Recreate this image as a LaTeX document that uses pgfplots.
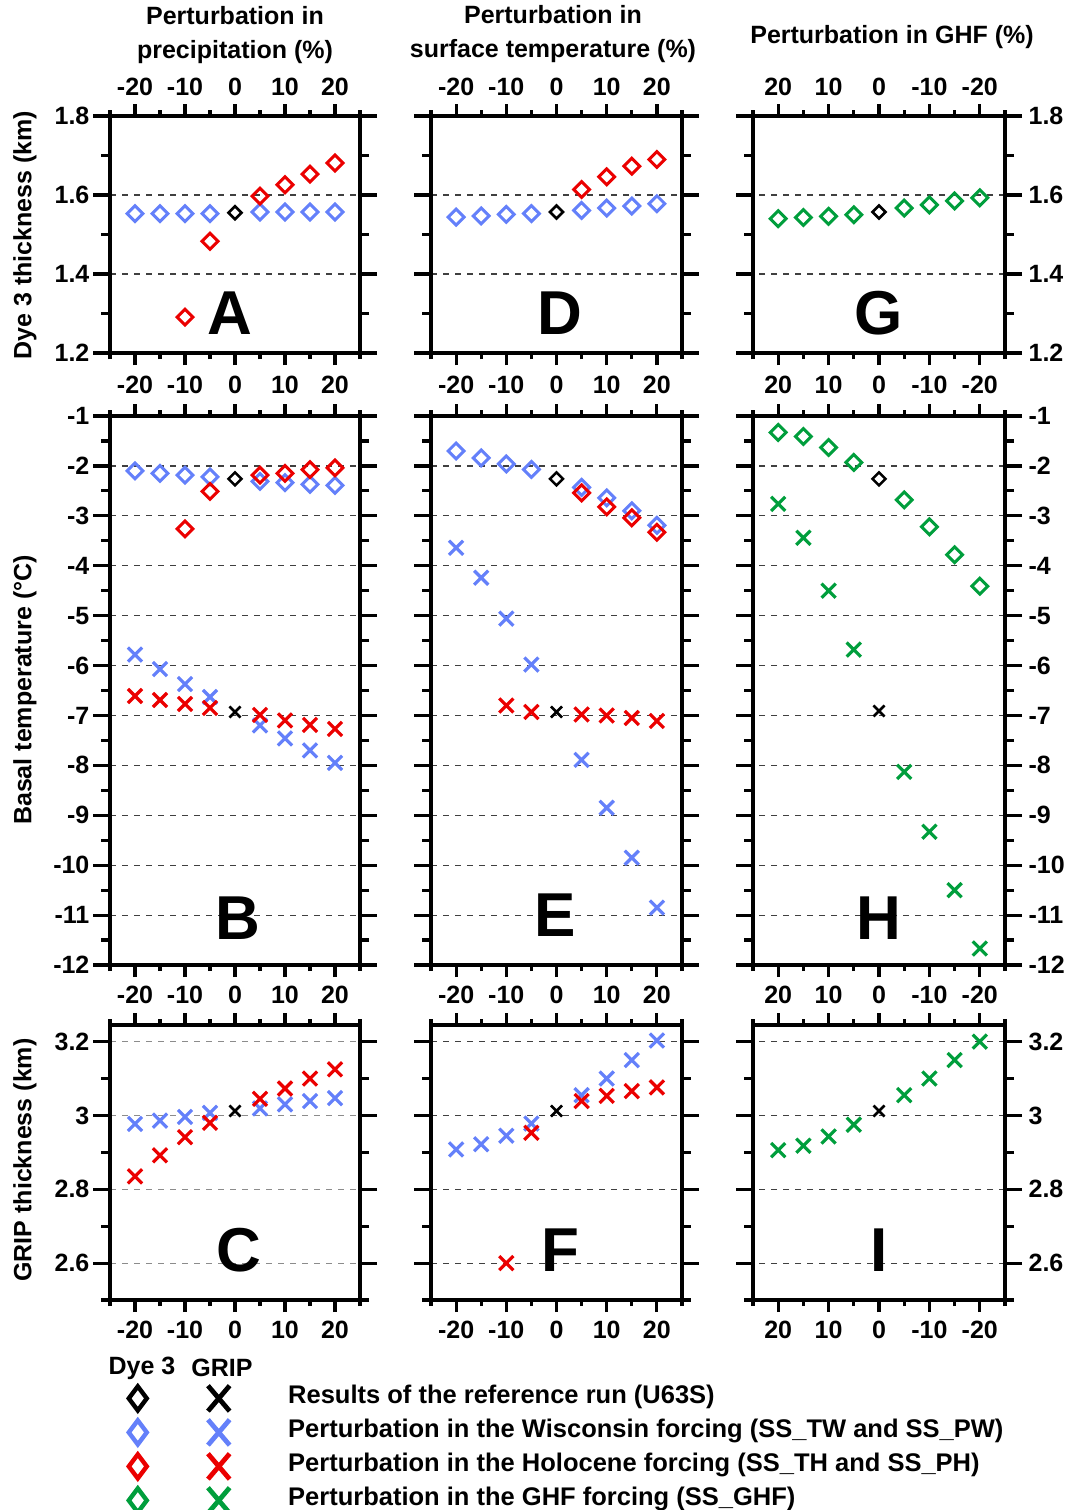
\documentclass[border=0pt]{standalone}
\usepackage{fontspec}
\setmainfont{Liberation Sans}
\usepackage{pgfplots}
\pgfplotsset{compat=1.18}

\definecolor{cblue}{RGB}{100,128,250}
\definecolor{cred}{RGB}{235,0,0}
\definecolor{cgreen}{RGB}{0,158,60}

\newcommand{\fs}{\bfseries\fontsize{12.5}{17}\selectfont}
\newcommand{\lgf}{\bfseries\fontsize{12.75}{17}\selectfont}
\newcommand{\lf}{\bfseries\fontsize{31}{31}\selectfont}

\pgfplotsset{
  panel/.style={
    scale only axis, anchor=north west,
    xmin=-25, xmax=25,
    xtick={-20,-10,0,10,20}, minor xtick={-25,-15,-5,5,15,25},
    tick align=outside,
    axis line style={line width=1.6pt},
    tick style={black, line width=1.6pt},
    xtick style={/pgfplots/major tick length=6pt, /pgfplots/minor tick length=3pt},
    ytick style={/pgfplots/major tick length=8.5pt, /pgfplots/minor tick length=4.5pt},
    ymajorgrids, major grid style={dashed, black!75, line width=0.6pt},
    tick label style={font=\fs},
    /pgf/number format/assume math mode=true,
    clip=false,
  },
  c1/.style={panel, width=125pt, yticklabel style={xshift=-2.5pt}},
  c2/.style={panel, width=125.5pt, yticklabels={}},
  c3/.style={panel, width=126pt, x dir=reverse, yticklabel pos=right,
    yticklabel style={xshift=4pt}},
  r1/.style={at={(#1,-58pt)}, height=118.5pt, ymin=1.2, ymax=1.8,
    ytick={1.2,1.4,1.6,1.8}, minor ytick={1.3,1.5,1.7}, xticklabel pos=upper,
    xticklabel style={yshift=2.5pt}},
  r1low/.style={at={(#1,-58pt)}, height=118.5pt, ymin=1.2, ymax=1.8,
    ytick=\empty, ymajorgrids=false, xticklabel pos=lower,
    xticklabel style={yshift=-3.5pt}},
  r2/.style={at={(#1,-208pt)}, height=274.5pt, ymin=-12, ymax=-1,
    ytick={-12,-11,...,-1}, minor ytick={-11.5,-10.5,...,-1.5}, xticklabel pos=lower,
    xticklabel style={yshift=-2.5pt}},
  r3/.style={at={(#1,-512.5pt)}, height=137.5pt, ymin=2.5, ymax=3.245,
    ytick={2.6,2.8,3.0,3.2}, minor ytick={2.5,2.7,2.9,3.1}, xticklabel pos=lower,
    xticklabel style={yshift=-2.5pt}},
  dia/.style={only marks, mark=square, mark size=2.8pt, mark options={rotate=45, solid, line width=1.5pt}},
  crs/.style={only marks, mark=x, mark size=5pt, mark options={solid, line width=1.6pt}},
  diaref/.style={only marks, mark=square, mark size=2.3pt, mark options={rotate=45, solid, line width=1.3pt}, color=black},
  crsref/.style={only marks, mark=x, mark size=3.9pt, mark options={solid, line width=1.3pt}, color=black},
}

\begin{document}
\begin{tikzpicture}
\useasboundingbox (0,0) rectangle (534pt,-755pt);

% column titles and row labels
\node[font=\fs, align=center] at (117.5pt,-17.5pt) {Perturbation in\\precipitation (\%)};
\node[font=\fs, align=center] at (276.5pt,-17pt) {Perturbation in\\surface temperature (\%)};
\node[font=\fs] at (446pt,-18.5pt) {Perturbation in GHF (\%)};
\node[font=\fs, rotate=90] at (12.5pt,-117.5pt) {Dye 3 thickness (km)};
\node[font=\fs, rotate=90] at (12.5pt,-345pt) {Basal temperature (°C)};
\node[font=\fs, rotate=90] at (12.5pt,-580pt) {GRIP thickness (km)};

% ---------- row 1: Dye 3 thickness ----------
\begin{axis}[c1, r1=55pt]
\addplot[dia, cblue] coordinates {(-20,1.553) (-15,1.553) (-10,1.553) (-5,1.553) (5,1.557) (10,1.557) (15,1.557) (20,1.557)};
\addplot[dia, cred] coordinates {(-10,1.291) (-5,1.483) (5,1.597) (10,1.626) (15,1.653) (20,1.681)};
\addplot[diaref] coordinates {(0,1.555)};
\node[font=\lf] at (axis cs:-1,1.30) {A};
\end{axis}
\begin{axis}[c1, r1low=55pt]
\end{axis}

\begin{axis}[c2, r1=215.5pt]
\addplot[dia, cblue] coordinates {(-20,1.544) (-15,1.547) (-10,1.551) (-5,1.553) (5,1.561) (10,1.567) (15,1.572) (20,1.578)};
\addplot[dia, cred] coordinates {(5,1.614) (10,1.646) (15,1.673) (20,1.690)};
\addplot[diaref] coordinates {(0,1.557)};
\node[font=\lf] at (axis cs:0.7,1.30) {D};
\end{axis}
\begin{axis}[c2, r1low=215.5pt]
\end{axis}

\begin{axis}[c3, r1=376.5pt]
\addplot[dia, cgreen] coordinates {(20,1.540) (15,1.543) (10,1.546) (5,1.550) (-5,1.567) (-10,1.575) (-15,1.585) (-20,1.593)};
\addplot[diaref] coordinates {(0,1.557)};
\node[font=\lf] at (axis cs:0,1.30) {G};
\end{axis}
\begin{axis}[c3, r1low=376.5pt]
\end{axis}

% ---------- row 2: basal temperature ----------
\begin{axis}[c1, r2=55pt]
\addplot[dia, cblue] coordinates {(-20,-2.10) (-15,-2.15) (-10,-2.185) (-5,-2.22) (5,-2.31) (10,-2.335) (15,-2.37) (20,-2.39)};
\addplot[dia, cred] coordinates {(-10,-3.26) (-5,-2.51) (5,-2.185) (10,-2.15) (15,-2.075) (20,-2.04)};
\addplot[diaref] coordinates {(0,-2.26)};
\addplot[crs, cblue] coordinates {(-20,-5.78) (-15,-6.07) (-10,-6.37) (-5,-6.63) (5,-7.20) (10,-7.46) (15,-7.70) (20,-7.95)};
\addplot[crs, cred] coordinates {(-20,-6.61) (-15,-6.69) (-10,-6.77) (-5,-6.85) (5,-6.99) (10,-7.10) (15,-7.19) (20,-7.27)};
\addplot[crsref] coordinates {(0,-6.93)};
\node[font=\lf] at (axis cs:0.6,-11.06) {B};
\end{axis}

\begin{axis}[c2, r2=215.5pt]
\addplot[dia, cblue] coordinates {(-20,-1.70) (-15,-1.84) (-10,-1.96) (-5,-2.07) (5,-2.43) (10,-2.64) (15,-2.90) (20,-3.19)};
\addplot[dia, cred] coordinates {(5,-2.54) (10,-2.82) (15,-3.04) (20,-3.33)};
\addplot[diaref] coordinates {(0,-2.26)};
\addplot[crs, cblue] coordinates {(-20,-3.64) (-15,-4.24) (-10,-5.06) (-5,-5.98) (5,-7.89) (10,-8.85) (15,-9.85) (20,-10.85)};
\addplot[crs, cred] coordinates {(-10,-6.80) (-5,-6.93) (5,-6.98) (10,-7.00) (15,-7.05) (20,-7.11)};
\addplot[crsref] coordinates {(0,-6.93)};
\node[font=\lf] at (axis cs:-0.3,-11.0) {E};
\end{axis}

\begin{axis}[c3, r2=376.5pt]
\addplot[dia, cgreen] coordinates {(20,-1.33) (15,-1.41) (10,-1.63) (5,-1.93) (-5,-2.68) (-10,-3.22) (-15,-3.78) (-20,-4.41)};
\addplot[diaref] coordinates {(0,-2.26)};
\addplot[crs, cgreen] coordinates {(20,-2.76) (15,-3.44) (10,-4.50) (5,-5.68) (-5,-8.13) (-10,-9.33) (-15,-10.50) (-20,-11.67)};
\addplot[crsref] coordinates {(0,-6.91)};
\node[font=\lf] at (axis cs:0,-11.06) {H};
\end{axis}

% ---------- row 3: GRIP thickness ----------
\begin{axis}[c1, r3=55pt, major grid style={dashed, black!45, line width=0.6pt}]
\addplot[crs, cblue] coordinates {(-20,2.977) (-15,2.986) (-10,2.996) (-5,3.007) (5,3.019) (10,3.030) (15,3.039) (20,3.047)};
\addplot[crs, cred] coordinates {(-20,2.835) (-15,2.892) (-10,2.941) (-5,2.980) (5,3.045) (10,3.073) (15,3.100) (20,3.125)};
\addplot[crsref] coordinates {(0,3.012)};
\node[font=\lf] at (axis cs:0.8,2.634) {C};
\end{axis}

\begin{axis}[c2, r3=215.5pt]
\addplot[crs, cblue] coordinates {(-20,2.908) (-15,2.922) (-10,2.945) (-5,2.978) (5,3.055) (10,3.100) (15,3.150) (20,3.203)};
\addplot[crs, cred] coordinates {(-10,2.600) (-5,2.953) (5,3.039) (10,3.053) (15,3.066) (20,3.076)};
\addplot[crsref] coordinates {(0,3.012)};
\node[font=\lf] at (axis cs:0.7,2.634) {F};
\end{axis}

\begin{axis}[c3, r3=376.5pt]
\addplot[crs, cgreen] coordinates {(20,2.906) (15,2.918) (10,2.943) (5,2.975) (-5,3.055) (-10,3.100) (-15,3.150) (-20,3.200)};
\addplot[crsref] coordinates {(0,3.012)};
\node[font=\lf] at (axis cs:0,2.634) {I};
\end{axis}

% ---------- legend ----------
\node[font=\fs] at (71pt,-684pt) {Dye 3};
\node[font=\fs] at (111pt,-684pt) {GRIP};
\begin{axis}[hide axis, scale only axis, at={(0pt,0pt)}, anchor=north west,
  width=534pt, height=755pt, xmin=0, xmax=534, ymin=-755, ymax=0,
  legend cell align=left,
  legend style={at={(axis cs:60.5,-690.5)}, anchor=north west, draw=none, fill=none,
    font=\lgf, row sep=0pt, inner sep=0pt,
    nodes={inner sep=0pt, text height=11pt, text depth=6pt}}]
\addlegendimage{legend image code/.code={
  \draw[black, line width=2.2pt, mark size=6pt] plot[only marks, mark=diamond] coordinates {(0pt,0pt)};
  \draw[black, line width=2.4pt, mark size=9pt] plot[only marks, mark=x, mark options={xscale=0.85}] coordinates {(40.5pt,0pt)};
  \path (-8pt,0pt) (75pt,0pt);}}
\addlegendentry{Results of the reference run (U63S)}
\addlegendimage{legend image code/.code={
  \draw[cblue, line width=2.2pt, mark size=6pt] plot[only marks, mark=diamond] coordinates {(0pt,0pt)};
  \draw[cblue, line width=2.4pt, mark size=9pt] plot[only marks, mark=x, mark options={xscale=0.85}] coordinates {(40.5pt,0pt)};
  \path (-8pt,0pt) (75pt,0pt);}}
\addlegendentry{Perturbation in the Wisconsin forcing (SS\_TW and SS\_PW)}
\addlegendimage{legend image code/.code={
  \draw[cred, line width=2.2pt, mark size=6pt] plot[only marks, mark=diamond] coordinates {(0pt,0pt)};
  \draw[cred, line width=2.4pt, mark size=9pt] plot[only marks, mark=x, mark options={xscale=0.85}] coordinates {(40.5pt,0pt)};
  \path (-8pt,0pt) (75pt,0pt);}}
\addlegendentry{Perturbation in the Holocene forcing (SS\_TH and SS\_PH)}
\addlegendimage{legend image code/.code={
  \draw[cgreen, line width=2.2pt, mark size=6pt] plot[only marks, mark=diamond] coordinates {(0pt,0pt)};
  \draw[cgreen, line width=2.4pt, mark size=9pt] plot[only marks, mark=x, mark options={xscale=0.85}] coordinates {(40.5pt,0pt)};
  \path (-8pt,0pt) (75pt,0pt);}}
\addlegendentry{Perturbation in the GHF forcing (SS\_GHF)}
\end{axis}
\end{tikzpicture}
\end{document}
